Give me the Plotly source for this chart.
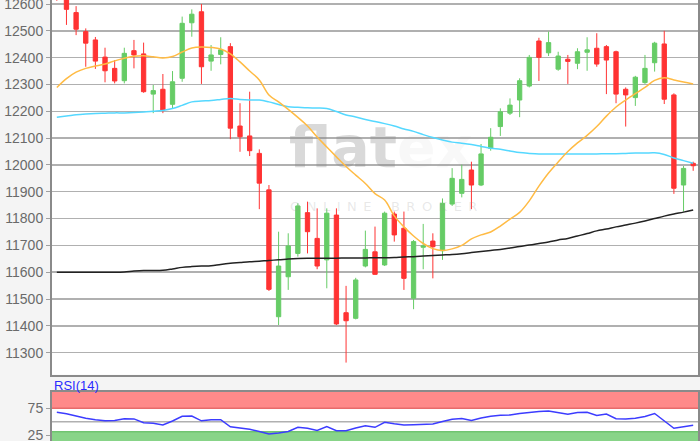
import plotly.graph_objects as go

# ---------------- data ----------------
idx = list(range(67))

opens = [12680, 12640, 12568, 12497, 12466, 12402, 12360, 12314, 12426, 12414,
         12264, 12282, 12226, 12323, 12530, 12571, 12387, 12412, 12441, 12145,
         12108, 12043, 11907, 11434, 11583, 11670, 11822, 11726, 11646, 11813,
         11449, 11428, 11623, 11676, 11627, 11817, 11764, 11503, 11693, 11716,
         11680, 11854, 11894, 11981, 11925, 12062, 12143, 12193, 12242, 12294,
         12462, 12418, 12357, 12394, 12379, 12420, 12435, 12441, 12422, 12282,
         12251, 12307, 12381, 12451, 12261, 11925, 12006]
highs = [12700, 12650, 12592, 12509, 12477, 12437, 12391, 12437, 12466, 12456,
         12298, 12339, 12350, 12553, 12580, 12600, 12447, 12476, 12454, 12230,
         12273, 12058, 11925, 11751, 11745, 11857, 11863, 11838, 11838, 11838,
         11549, 11579, 11755, 11770, 11826, 11826, 11826, 11720, 11780, 11745,
         11875, 11988, 12001, 12012, 12078, 12137, 12211, 12248, 12323, 12410,
         12474, 12497, 12422, 12410, 12435, 12476, 12491, 12447, 12426, 12289,
         12332, 12410, 12459, 12500, 12267, 11996, 12012]
lows = [12612, 12522, 12484, 12366, 12358, 12308, 12304, 12304, 12360, 12269,
        12193, 12193, 12211, 12310, 12478, 12302, 12351, 12375, 12096, 12049,
        12033, 11835, 11530, 11403, 11534, 11658, 11670, 11611, 11540, 11403,
        11263, 11424, 11618, 11590, 11623, 11714, 11534, 11462, 11611, 11577,
        11646, 11847, 11879, 11835, 11921, 12053, 12108, 12186, 12178, 12289,
        12313, 12406, 12351, 12302, 12357, 12351, 12366, 12264, 12230, 12143,
        12220, 12302, 12348, 12227, 11892, 11826, 11978]
closes = [12618, 12580, 12506, 12454, 12387, 12351, 12313, 12416, 12410, 12273,
          12277, 12205, 12310, 12528, 12562, 12366, 12410, 12429, 12137, 12105,
          12053, 11932, 11536, 11623, 11698, 11847, 11751, 11623, 11820, 11407,
          11419, 11571, 11685, 11592, 11820, 11739, 11577, 11714, 11698, 11695,
          11857, 11950, 11946, 11925, 12041, 12103, 12198, 12223, 12314, 12401,
          12401, 12456, 12406, 12386, 12422, 12429, 12376, 12391, 12264, 12261,
          12327, 12360, 12454, 12245, 11913, 11987, 11997]

ma_fast = [12289, 12322, 12346, 12360, 12369, 12376, 12388, 12398, 12405, 12407,
           12403, 12399, 12404, 12421, 12436, 12440, 12438, 12432, 12414, 12384,
           12350, 12317, 12261, 12235, 12207, 12177, 12145, 12104, 12067, 12030,
           11994, 11962, 11931, 11893, 11869, 11810, 11769, 11735, 11707, 11688,
           11681, 11687, 11700, 11724, 11739, 11750, 11772, 11798, 11823, 11866,
           11921, 11970, 12011, 12050, 12082, 12110, 12143, 12182, 12216, 12242,
           12266, 12289, 12315, 12325, 12317, 12309, 12302]
ma_mid = [12178, 12182, 12187, 12190, 12192, 12193, 12194, 12194, 12195, 12197,
          12200, 12203, 12210, 12222, 12235, 12238, 12240, 12244, 12248, 12244,
          12242, 12242, 12235, 12225, 12217, 12215, 12213, 12212, 12210, 12199,
          12186, 12179, 12169, 12162, 12154, 12145, 12134, 12125, 12113, 12102,
          12093, 12085, 12081, 12076, 12069, 12062, 12058, 12052, 12046, 12043,
          12041, 12041, 12041, 12041, 12041, 12041, 12041, 12042, 12042, 12043,
          12044, 12044, 12045, 12039, 12026, 12016, 12006]
ma_slow = [11600, 11600, 11600, 11600, 11600, 11600, 11600, 11601, 11604, 11606,
           11606, 11607, 11612, 11618, 11621, 11623, 11624, 11629, 11633, 11636,
           11639, 11641, 11644, 11646, 11649, 11651, 11652, 11652, 11652, 11652,
           11653, 11653, 11653, 11654, 11654, 11655, 11657, 11658, 11660, 11662,
           11664, 11666, 11669, 11673, 11677, 11681, 11685, 11690, 11696, 11701,
           11707, 11713, 11720, 11726, 11735, 11744, 11754, 11761, 11769, 11776,
           11783, 11791, 11800, 11809, 11817, 11824, 11832]
rsi = [67.4, 64.8, 60.6, 56.3, 53.5, 51.9, 52.2, 55.6, 55.2, 48.1,
       47.2, 43.9, 51.3, 60.2, 60.6, 51.7, 53.7, 53.7, 40.7, 38.9,
       35.9, 31.9, 27.2, 29.1, 31.9, 39.8, 37.8, 33.7, 41.1, 33.3,
       33.3, 38.3, 42.6, 39.6, 48.9, 46.1, 43.9, 44.3, 45.2, 45.7,
       50.4, 54.4, 55.9, 52.2, 56.9, 60.2, 62.0, 62.4, 65.2, 67.4,
       68.9, 70.0, 67.0, 63.9, 66.9, 67.6, 61.7, 64.3, 55.6, 55.2,
       56.5, 59.6, 65.2, 51.3, 37.8, 40.6, 43.3]

price_ticks = [11300, 11400, 11500, 11600, 11700, 11800, 11900, 12000,
               12100, 12200, 12300, 12400, 12500, 12600]
rsi_ticks = [25, 75]
rsi_mid = 50
rsi_upper, rsi_lower = 75, 31.5

# ---------------- figure ----------------
RED = "#ff3333"
GREEN = "#66cc66"
AXIS = "#8a8a8a"
GRID = "#b0b0b0"
LABEL = "#6a6a6a"
FONT = "Liberation Sans, Arial, sans-serif"

fig = go.Figure()

# watermark (drawn first so the candles sit on top)
fig.add_trace(go.Scatter(
    x=[33.6], y=[12045], mode="text",
    text=["flat<span style='color:rgba(150,150,150,0.22)'>ex</span>"],
    textfont=dict(family="DejaVu Sans", size=57, color="rgba(130,130,130,0.30)", weight="bold"),
    hoverinfo="skip", showlegend=False))
fig.add_trace(go.Scatter(
    x=[33.9], y=[11840], mode="text",
    text=["\u2002".join("ONLINE") + "\u2002\u2002\u2002" + "\u2002".join("BROKER")],
    textfont=dict(family="DejaVu Sans", size=13, color="rgba(150,150,150,0.22)"),
    hoverinfo="skip", showlegend=False))

fig.add_trace(go.Candlestick(
    x=idx, open=opens, high=highs, low=lows, close=closes,
    increasing=dict(line=dict(color=GREEN, width=1), fillcolor=GREEN),
    decreasing=dict(line=dict(color=RED, width=1), fillcolor=RED),
    whiskerwidth=0, showlegend=False, hoverinfo="skip"))

fig.add_trace(go.Scatter(x=idx, y=ma_mid, mode="lines",
                         line=dict(color="#55d8ff", width=1.5, shape="spline"),
                         showlegend=False, hoverinfo="skip"))
fig.add_trace(go.Scatter(x=idx, y=ma_fast, mode="lines",
                         line=dict(color="#ffbb44", width=1.5, shape="spline"),
                         showlegend=False, hoverinfo="skip"))
fig.add_trace(go.Scatter(x=idx, y=ma_slow, mode="lines",
                         line=dict(color="#222222", width=1.5, shape="spline"),
                         showlegend=False, hoverinfo="skip"))

fig.add_trace(go.Scatter(x=idx, y=rsi, mode="lines", xaxis="x2", yaxis="y2",
                         line=dict(color="#3c3cff", width=1.5),
                         showlegend=False, hoverinfo="skip"))

H = 441
fig.update_layout(
    width=700, height=H,
    margin=dict(l=52, r=2, t=0, b=0, autoexpand=False),
    paper_bgcolor="#f4f4f4", plot_bgcolor="#ffffff",
    boxgap=0.36,
    showlegend=False,
    xaxis=dict(domain=[0, 1], range=[-0.5, 66.5], showgrid=False, zeroline=False,
               showticklabels=False, ticks="", showline=True, linecolor=AXIS,
               linewidth=2, rangeslider=dict(visible=False), anchor="y"),
    yaxis=dict(domain=[(H - 374.7) / H, 1], range=[11217.8, 12614.9],
               tickvals=price_ticks, tickformat="d", showgrid=True,
               gridcolor=GRID, gridwidth=1.5,
               zeroline=False, showline=True, linecolor=AXIS, linewidth=2,
               mirror=True, ticks="outside", ticklen=4, tickcolor="#a0a0a0",
               ticklabeloverflow="allow",
               tickfont=dict(family=FONT, size=14, color=LABEL), anchor="x"),
    xaxis2=dict(domain=[0, 1], range=[-0.5, 66.5], anchor="y2", side="top",
                showgrid=False, zeroline=False, showticklabels=False, ticks="",
                showline=True, linecolor=AXIS, linewidth=2),
    yaxis2=dict(domain=[0, (H - 391.7) / H], range=[14.3, 105.6],
                tickvals=rsi_ticks, tickformat="d",
                showgrid=False, zeroline=False,
                showline=True, linecolor=AXIS, linewidth=2, mirror=True,
                ticks="outside", ticklen=4, tickcolor="#a0a0a0",
                ticklabeloverflow="allow",
                tickfont=dict(family=FONT, size=14, color=LABEL), anchor="x2"),
    shapes=[
        dict(type="rect", xref="x2", yref="y2", x0=-0.5, x1=66.5,
             y0=rsi_upper, y1=105.6, fillcolor="#ff8a8a", line=dict(width=0),
             layer="below"),
        dict(type="line", xref="x2", yref="y2", x0=-0.5, x1=66.5,
             y0=rsi_upper, y1=rsi_upper, line=dict(color="#e86b6b", width=1.5),
             layer="below"),
        dict(type="rect", xref="x2", yref="y2", x0=-0.5, x1=66.5,
             y0=14.3, y1=rsi_lower, fillcolor="#88d488", line=dict(width=0),
             layer="below"),
        dict(type="line", xref="x2", yref="y2", x0=-0.5, x1=66.5,
             y0=rsi_lower, y1=rsi_lower, line=dict(color="#70c470", width=1.5),
             layer="below"),
        dict(type="line", xref="x2", yref="y2", x0=-0.5, x1=66.5,
             y0=rsi_mid, y1=rsi_mid, line=dict(color=GRID, width=1.5),
             layer="below"),
    ],
    annotations=[
        dict(text="RSI(14)", xref="paper", yref="paper", x=0, y=(H - 385) / H,
             xanchor="left", yanchor="middle", showarrow=False,
             font=dict(family=FONT, size=13, color="#2b2bff")),
    ],
)

fig.write_html(
    "out.html",
    config={"displayModeBar": False, "staticPlot": True},
    post_script="document.body.style.margin='0';document.body.style.overflow='hidden';",
)
